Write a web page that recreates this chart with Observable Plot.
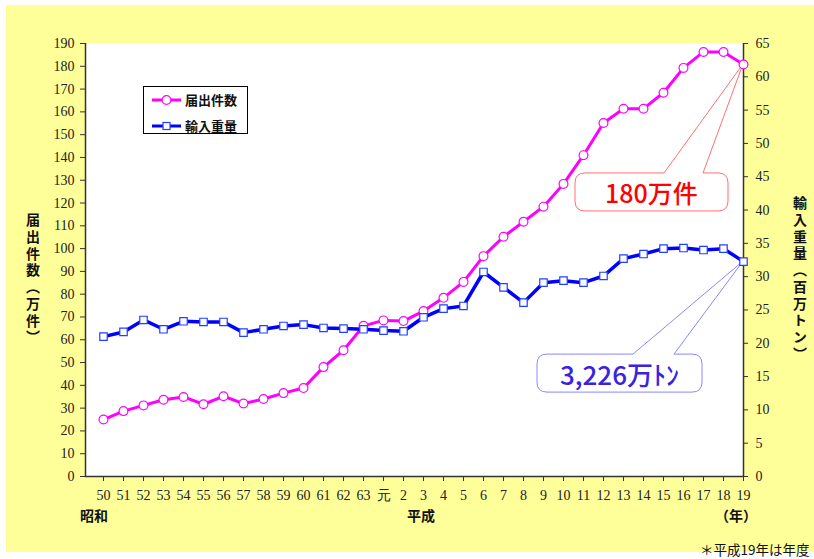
<!DOCTYPE html>
<html><head><meta charset="utf-8">
<script src="https://cdn.jsdelivr.net/npm/d3@7"></script>
<script src="https://cdn.jsdelivr.net/npm/@observablehq/plot@0.6"></script>
<style>
html,body{margin:0;padding:0;background:#fff;overflow:hidden;}
#wrap{position:relative;width:814px;height:559px;}
#bg{position:absolute;left:6px;top:5px;width:808px;height:547px;background:#FFFF99;}
#chart{position:absolute;left:0;top:0;}
.jp{font-family:"Noto Sans CJK JP","Noto Sans",sans-serif;color:#111;position:absolute;}
.vt{writing-mode:vertical-rl;font-size:14px;font-weight:700;letter-spacing:2.7px;}
#legend{position:absolute;left:143px;top:86px;width:103px;height:46px;border:1px solid #000;background:#fff;}
#chart svg text{font-family:'Liberation Serif','DejaVu Serif',serif;}
#chart svg text.callout{font-family:'Noto Sans CJK JP','Noto Sans',sans-serif;}
</style></head>
<body><div id="wrap"><div id="bg"></div><div id="chart"></div>
<div class="jp vt" style="left:23px;top:213px;">届出件数（万件）</div>
<div class="jp vt" style="left:790px;top:196px;">輸入重量（百万トン）</div>
<div class="jp" style="left:80px;top:505px;font-size:14px;font-weight:700;">昭和</div>
<div class="jp" style="left:407px;top:505px;font-size:14px;font-weight:700;">平成</div>
<div class="jp" style="left:715px;top:505px;font-size:14px;font-weight:700;">（年）</div>
<div class="jp" style="left:700px;top:542px;font-size:13.5px;line-height:15px;white-space:nowrap;">＊平成19年は年度</div>
<div id="legend"></div>
</div>
<script>
const categories = ["50","51","52","53","54","55","56","57","58","59","60","61","62","63","元","2","3","4","5","6","7","8","9","10","11","12","13","14","15","16","17","18","19"];
const applications = [25,28.7,31.2,33.7,34.9,31.7,35.2,32,34,36.6,38.8,48,55.4,66.1,68.5,68.2,72.6,78.4,85.4,96.7,105.2,111.8,118.4,128.4,141,155.1,161.4,161.4,168.4,179.3,186.3,186.3,180.8];
const imports = [21,21.7,23.5,22.1,23.3,23.2,23.2,21.6,22.1,22.6,22.8,22.3,22.2,22.1,21.9,21.8,23.9,25.2,25.6,30.7,28.4,26.1,29.1,29.4,29.1,30.1,32.7,33.4,34.2,34.3,34.0,34.2,32.26];
const leftTicks = d3.range(0, 191, 10);
const rightTicks = d3.range(0, 66, 5);
const seriesNames = ["届出件数", "輸入重量"];
const calloutLabels = ["180万件", "3,226万ﾄﾝ"];

const k = 190 / 65;
const dataA = categories.map((c, i) => ({i, v: applications[i]}));
const dataB = categories.map((c, i) => ({i, v: imports[i] * k}));
const pink = "#FF00FF", blue = "#0000FF";
const tickFont = {fontSize: 14, fill: "#222"};

const plot = Plot.plot({
  width: 814, height: 559,
  marginLeft: 85, marginRight: 71, marginTop: 43, marginBottom: 83,
  style: {background: "transparent", overflow: "visible", color: "#333", fontFamily: "'Liberation Serif','DejaVu Serif',serif", fontSize: "14px"},
  x: {type: "linear", domain: [-0.9, 32]},
  y: {domain: [0, 190]},
  marks: [
    Plot.frame({fill: "white", stroke: "none"}),
    Plot.axisY({anchor: "left", ticks: leftTicks, tickSize: 5, tickPadding: 6, label: null, stroke: "#333", ...tickFont}),
    Plot.axisY({anchor: "right", ticks: rightTicks.map(v => v * k), tickFormat: d => Math.round(d / k), tickSize: 4, tickPadding: 8, label: null, stroke: "#333", ...tickFont}),
    Plot.axisX({ticks: d3.range(0, 33), tickFormat: i => categories[i], tickSize: 5, tickPadding: 9, label: null, stroke: "#333", ...tickFont}),
    Plot.tickY([0], {stroke: "#333", strokeWidth: 1.5}),
    Plot.ruleX([-0.9], {stroke: "#333", strokeWidth: 1.5}),
    Plot.ruleX([32], {stroke: "#333", strokeWidth: 1.5}),
    Plot.line(dataA, {x: "i", y: "v", stroke: pink, strokeWidth: 3}),
    Plot.line(dataB, {x: "i", y: "v", stroke: blue, strokeWidth: 3.5}),
    Plot.dot(dataA, {x: "i", y: "v", r: 4.4, fill: "white", stroke: pink, strokeWidth: 1.2}),
    Plot.dot(dataB, {x: "i", y: "v", r: 4.2, symbol: "square", fill: "white", stroke: "#2040FF", strokeWidth: 1.2})
  ]
});
document.getElementById("chart").appendChild(plot);

// callouts anchored on the last data point
const xs = plot.scale("x"), ys = plot.scale("y");
const svg = d3.select(plot);
function callout(px, py, L, R, T, B, b1, b2, strokeCol, textCol, label, fs) {
  const r = 10;
  const l = px + L, rr = px + R, t = py + T, b = py + B;
  const p = `M${l + r},${t} L${px + b1},${t} L${px},${py} L${px + b2},${t} L${rr - r},${t} Q${rr},${t} ${rr},${t + r} L${rr},${b - r} Q${rr},${b} ${rr - r},${b} L${l + r},${b} Q${l},${b} ${l},${b - r} L${l},${t + r} Q${l},${t} ${l + r},${t} Z`;
  const g = svg.append("g");
  g.append("path").attr("d", p).attr("fill", "white").attr("stroke", strokeCol).attr("stroke-width", 1);
  g.append("text").attr("class", "callout").attr("x", (l + rr) / 2).attr("y", (t + b) / 2).attr("text-anchor", "middle")
    .attr("dominant-baseline", "central").attr("fill", textCol)
    .attr("font-weight", 500).attr("font-size", fs).text(label);
}
const last = categories.length - 1;
callout(xs.apply(last), ys.apply(applications[last]), -168, -15, 109, 147, -79, -40, "#FF7070", "#FF0000", calloutLabels[0], 25);
callout(xs.apply(last), ys.apply(imports[last] * k), -206, -41, 93, 131, -110, -69, "#8888FF", "#3A22E0", calloutLabels[1], 26);
svg.selectAll("g[aria-label='dot']").raise();

// legend
const leg = d3.select("#legend");
const rows = [{name: seriesNames[0], c: pink, sym: "circle"}, {name: seriesNames[1], c: blue, sym: "square"}];
rows.forEach((d, j) => {
  const row = leg.append("div").style("position", "absolute").style("left", "8px").style("top", (j === 0 ? 3 : 29) + "px")
    .style("display", "flex").style("align-items", "center");
  const s = row.append("svg").attr("width", 30).attr("height", 14);
  s.append("line").attr("x1", 0).attr("x2", 29).attr("y1", 7).attr("y2", 7).attr("stroke", d.c).attr("stroke-width", 3);
  if (d.sym === "circle") s.append("circle").attr("cx", 14.5).attr("cy", 7).attr("r", 4.4).attr("fill", "white").attr("stroke", d.c).attr("stroke-width", 1.2);
  else s.append("rect").attr("x", 11).attr("y", 3.5).attr("width", 7).attr("height", 7).attr("fill", "white").attr("stroke", "#2040FF").attr("stroke-width", 1.2);
  row.append("span").style("font-family", "'Noto Sans CJK JP',sans-serif").style("font-size", "13px").style("font-weight", 700)
    .style("margin-left", "3px").style("color", "#111").text(d.name);
});
</script></body></html>
